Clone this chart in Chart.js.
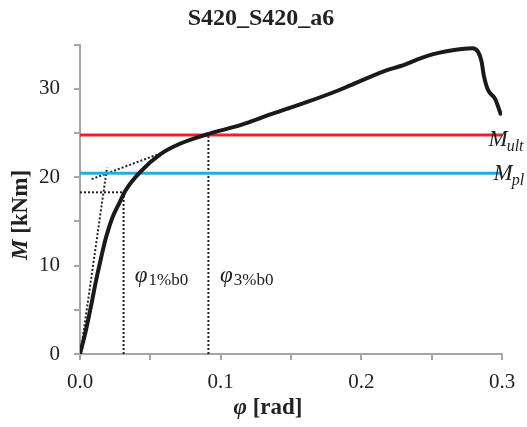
<!DOCTYPE html>
<html>
<head>
<meta charset="utf-8">
<script src="https://cdn.jsdelivr.net/npm/chart.js@4/dist/chart.umd.min.js"></script>
<style>
  html, body { margin: 0; padding: 0; background: #fff; }
  #wrap { width: 527px; height: 427px; position: relative; }
</style>
</head>
<body>
<div id="wrap"><canvas id="c" width="527" height="427"></canvas></div>
<script>
// ---- data ----
const phi    = [0, 0.0043, 0.0078, 0.0114, 0.015, 0.0185, 0.0232, 0.028, 0.0327, 0.0427, 0.057, 0.071, 0.090, 0.114, 0.137, 0.161, 0.183, 0.192, 0.216, 0.228, 0.247, 0.266, 0.279, 0.283, 0.2855, 0.287, 0.290, 0.295, 0.299];
const moment = [0, 2.75, 5.4, 8.3, 10.9, 13.2, 15.5, 17.1, 18.6, 20.6, 22.6, 23.8, 24.85, 25.9, 27.2, 28.5, 29.8, 30.4, 32.0, 32.6, 33.75, 34.4, 34.6, 34.2, 33.1, 31.6, 29.9, 28.9, 27.2];

const mUlt = 24.8;      // M_ult
const mPl  = 20.45;     // M_pl
const phiRange = [0, 0.3];

const phi1 = 0.031;     // φ 1%b0
const m1   = 18.3;
const phi3 = 0.0913;    // φ 3%b0

const elasticPhi = [0.0003, 0.0192];
const elasticM   = [0, 21.1];
const hardenPhi  = [0.0083, 0.0605];
const hardenM    = [19.8, 22.9];

const xTickLabels = ['0.0', '0.1', '0.2', '0.3'];
const yTickLabels = ['0', '10', '20', '30'];

// ---- build ----
const pts = (xs, ys) => xs.map((x, i) => ({ x: x, y: ys[i] }));
const serif = "'Liberation Serif', 'Times New Roman', serif";
const dotted = { borderColor: '#222', borderWidth: 2, borderDash: [2, 2], pointRadius: 0, fill: false, tension: 0 };

const annotations = {
  id: 'annot',
  afterDatasetsDraw(chart) {
    const ctx = chart.ctx, xs = chart.scales.x, ys = chart.scales.y;
    const px = v => xs.getPixelForValue(v), py = v => ys.getPixelForValue(v);
    ctx.save();
    ctx.fillStyle = '#222';
    ctx.textBaseline = 'alphabetic';
    ctx.textAlign = 'left';
    // φ labels
    const phiLabel = (xv, sub) => {
      const x = px(xv), y = py(8.1);
      ctx.font = 'italic 23px ' + serif;
      ctx.fillText('φ', x, y);
      const w = ctx.measureText('φ').width;
      ctx.font = '17px ' + serif;
      ctx.fillText(sub, x + w + 1, y + 3);
    };
    phiLabel(0.0390, '1%b0');
    phiLabel(0.0996, '3%b0');
    // M labels
    const mLabel = (xv, yv, sub) => {
      const x = px(xv), y = py(yv);
      ctx.font = 'italic 23px ' + serif;
      ctx.fillText('M', x, y);
      const w = ctx.measureText('M').width;
      ctx.font = 'italic 16px ' + serif;
      ctx.fillText(sub, x + w - 1, y + 5);
    };
    mLabel(0.2904, mUlt - 1.2, 'ult');
    mLabel(0.2940, mPl - 0.8, 'pl');
    // x axis title
    const xa = 'φ', xb = ' [rad]';
    ctx.font = 'bold italic 23px ' + serif; const wa = ctx.measureText(xa).width;
    ctx.font = 'bold 23px ' + serif; const wb = ctx.measureText(xb).width;
    const cx = 268;
    let sx = cx - (wa + wb) / 2;
    ctx.textBaseline = 'middle';
    ctx.font = 'bold italic 23px ' + serif; ctx.fillText(xa, sx, 408);
    ctx.font = 'bold 23px ' + serif; ctx.fillText(xb, sx + wa, 408);
    // y axis title
    ctx.save();
    ctx.translate(21, 215);
    ctx.rotate(-Math.PI / 2);
    const ya = 'M', yb = ' [kNm]';
    ctx.font = 'bold italic 23px ' + serif; const wya = ctx.measureText(ya).width;
    ctx.font = 'bold 23px ' + serif; const wyb = ctx.measureText(yb).width;
    let sy = -(wya + wyb) / 2;
    ctx.font = 'bold italic 23px ' + serif; ctx.fillText(ya, sy, 0);
    ctx.font = 'bold 23px ' + serif; ctx.fillText(yb, sy + wya, 0);
    ctx.restore();
    ctx.restore();
  }
};

new Chart(document.getElementById('c'), {
  type: 'line',
  data: {
    datasets: [
      { label: 'M-φ', data: pts(phi, moment), borderColor: '#1a1a1a', borderWidth: 4, pointRadius: 0, cubicInterpolationMode: 'monotone', fill: false, borderJoinStyle: 'round', borderCapStyle: 'round' },
      { label: 'M_ult', data: pts(phiRange, [mUlt, mUlt]), borderColor: '#e8242b', borderWidth: 3, pointRadius: 0, fill: false },
      { label: 'M_pl', data: pts(phiRange, [mPl, mPl]), borderColor: '#27aae1', borderWidth: 3, pointRadius: 0, fill: false },
      Object.assign({ label: 'elastic', data: pts(elasticPhi, elasticM) }, dotted),
      Object.assign({ label: 'hardening', data: pts(hardenPhi, hardenM) }, dotted),
      Object.assign({ label: 'h1', data: pts([0, phi1 + 0.001], [m1, m1]) }, dotted),
      Object.assign({ label: 'v1', data: pts([phi1, phi1], [0, m1]) }, dotted),
      Object.assign({ label: 'v3', data: pts([phi3, phi3], [0, mUlt]) }, dotted)
    ]
  },
  options: {
    responsive: false,
    animation: false,
    events: [],
    layout: { padding: { left: 20, right: 25, top: 0, bottom: 0 } },
    plugins: {
      legend: { display: false },
      tooltip: { enabled: false },
      title: {
        display: true,
        text: 'S420_S420_a6',
        color: '#222',
        font: { family: serif, size: 24, weight: 'bold' },
        padding: { top: 4, bottom: 12 }
      }
    },
    scales: {
      x: {
        type: 'linear',
        min: 0, max: 0.3,
        afterFit: s => { s.height = 73; },
        border: { color: '#a6a6a6', width: 2 },
        grid: { drawOnChartArea: false, drawTicks: true, tickLength: 6, color: '#a6a6a6', lineWidth: 2 },
        ticks: {
          stepSize: 0.05,
          maxRotation: 0,
          autoSkip: false,
          padding: 10,
          color: '#222',
          font: { family: serif, size: 21 },
          callback: v => { const k = Math.round(v * 100); return k % 10 === 0 ? xTickLabels[k / 10] : ''; }
        }
      },
      y: {
        type: 'linear',
        min: 0, max: 35,
        afterFit: s => { s.width = 60; },
        border: { color: '#a6a6a6', width: 2 },
        grid: { drawOnChartArea: false, drawTicks: true, tickLength: 6, color: '#a6a6a6', lineWidth: 2 },
        ticks: {
          stepSize: 5,
          autoSkip: false,
          padding: 14,
          color: '#222',
          font: { family: serif, size: 21 },
          callback: v => (Math.round(v) % 10 === 0 ? yTickLabels[Math.round(v) / 10] : '')
        }
      }
    }
  },
  plugins: [annotations]
});
</script>
</body>
</html>
